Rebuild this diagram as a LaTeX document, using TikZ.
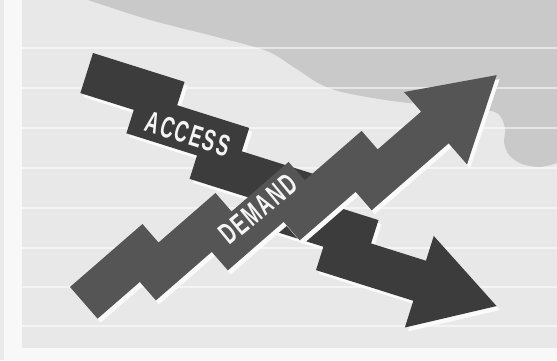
\documentclass[tikz,border=0pt]{standalone}
\usepackage{fontspec}
\usepackage{graphicx}
\newfontfamily\labelfont[LetterSpace=10]{Liberation Sans Bold}
\definecolor{paper}{HTML}{E8E8E8}
\definecolor{margin}{HTML}{F8F8F8}
\definecolor{cloud}{HTML}{C9C9C9}
\definecolor{fallgray}{HTML}{3C3C3C}
\definecolor{risegray}{HTML}{555555}
\definecolor{glow}{HTML}{FAFAFA}
% stepped arrow outline in local units: a along the shaft, p across it (downwards)
\newcommand\stairoutline{%
  (0,0) -- (96,0) -- (96,24.5) -- (171.5,24.5) -- (171.5,49) -- (247,49)
  -- (247,73.5) -- (322.5,73.5) -- (322.5,98) -- (380,98) -- (380,72)
  -- (461,120) -- (380,168) -- (380,140) -- (278,140) -- (278,115.5)
  -- (204,115.5) -- (204,91) -- (130,91) -- (130,66.5) -- (56,66.5)
  -- (56,42) -- (0,42) -- cycle}
% condensed label text
\newcommand\narrowlabel[1]{\scalebox{0.62}[1]{\labelfont\fontsize{30}{30}\selectfont #1}}
\tikzset{
  shadowfill/.style={fill=glow},
  fallfill/.style={fill=fallgray},
  risefill/.style={fill=risegray},
  gridline/.style={draw=white, opacity=0.55, line width=1.3pt},
  arrowlabel/.style={text=white!96!black, inner sep=0pt}
}
\begin{document}
\begin{tikzpicture}[x=1pt,y=-1pt]
  \useasboundingbox (0,0) rectangle (557,360);
  % paper and margins
  \fill[paper] (0,0) rectangle (557,360);
  \fill[cloud] plot[smooth] coordinates {(88,0) (150,20) (217,37) (267,51)
    (295,68) (318,83) (338,91) (367,97) (400,102) (450,107) (495,112)
    (505,128) (504,142) (509,155) (522,164) (540,167) (557,163)}
    -- (557,0) -- cycle;
  \foreach \y in {48,88,128,168,208,248,287,326}
    \draw[gridline] (22,\y) -- (557,\y);
  \fill[margin] (0,0) rectangle (22,360);
  \fill[margin] (0,348) rectangle (557,360);
  \fill[paper!90!white] (0,0) rectangle (4,360);
  % falling arrow with its light offset edge
  \begin{scope}[shift={(3,4)}]
    \begin{scope}[shift={(93,53)}, rotate=-17.5]
      \fill[shadowfill] \stairoutline;
    \end{scope}
  \end{scope}
  \begin{scope}[shift={(93,53)}, rotate=-17.5]
    \fill[fallfill] \stairoutline;
  \end{scope}
  % rising arrow with its light offset edge
  \begin{scope}[shift={(3,4)}]
    \begin{scope}[shift={(70,287)}, rotate=41]
      \fill[shadowfill] \stairoutline;
    \end{scope}
  \end{scope}
  \begin{scope}[shift={(70,287)}, rotate=41]
    \fill[risefill] \stairoutline;
  \end{scope}
  % labels
  \node[arrowlabel, rotate=-17.5] (access) at (188,134) {\narrowlabel{ACCESS}};
  \node[arrowlabel, rotate=39.5] (demand) at (258,209) {\narrowlabel{DEMAND}};
\end{tikzpicture}
\end{document}
